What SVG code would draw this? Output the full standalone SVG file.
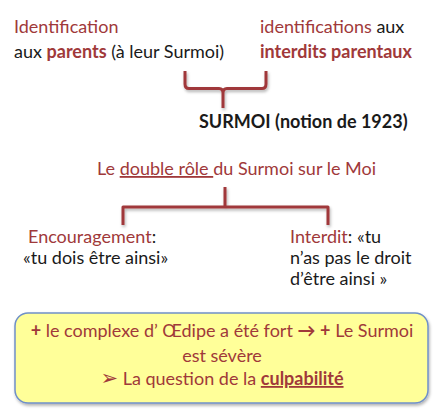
<svg xmlns="http://www.w3.org/2000/svg" width="445" height="412" viewBox="0 0 445 412">
<defs>
<style>
text{font-family:Lato,"Open Sans","Liberation Sans",sans-serif;font-size:18px;fill:#1a1a1a}
.r{fill:#A0393A}
.b{font-weight:bold}
.d{font-family:"DejaVu Sans",sans-serif;font-size:21px}
.c{fill:none;stroke:#A0393A;stroke-width:3;stroke-linejoin:round;stroke-linecap:butt}
</style>
<filter id="sh" x="-10%" y="-10%" width="120%" height="130%">
<feDropShadow dx="1" dy="2" stdDeviation="1.5" flood-color="#000" flood-opacity="0.3"/>
</filter>
</defs>
<rect width="445" height="412" fill="#fff"/>
<g id="n-ident-parents">
<text x="14" y="33" class="r">Identification</text>
<text x="14" y="58">aux <tspan class="r b">parents</tspan> (à leur Surmoi)</text>
</g>
<g id="n-ident-interdits">
<text x="260" y="33"><tspan class="r">identifications</tspan> aux</text>
<text x="260" y="58" class="r b">interdits parentaux</text>
</g>
<g id="n-surmoi">
<text x="199" y="128" class="b">SURMOI (notion de 1923)</text>
</g>
<g id="n-double">
<text x="97" y="175" class="r">Le <tspan text-decoration="underline">double rôle </tspan>du Surmoi sur le Moi</text>
</g>
<g id="n-encour">
<text x="28" y="243"><tspan class="r">Encouragement</tspan>:</text>
<text x="23" y="264">«tu dois être ainsi»</text>
</g>
<g id="n-interdit">
<text x="290" y="243"><tspan class="r">Interdit</tspan>: «tu</text>
<text x="290" y="264">n’as pas le droit</text>
<text x="290" y="285">d’être ainsi »</text>
</g>
<g id="connectors" filter="url(#sh)">
<path class="c" d="M185,71 V84 Q185,88.5 189,88.5 H219 Q223,88.5 223,93 V108 M223,93 Q223,88.5 227,88.5 H262 Q266,88.5 266,84 V71"/>
<path class="c" d="M225,187 V207 M123,225 V207 H328 V225"/>
</g>
<g id="n-box">
<rect x="15" y="313" width="413" height="90" rx="13" fill="#FFFF99" stroke="#7090C8" stroke-width="1.5" filter="url(#sh)"/>
<text x="222" y="337" text-anchor="middle" class="r"><tspan class="b">+</tspan> le complexe d’ Œdipe a été fort <tspan class="b">→</tspan> <tspan class="b">+</tspan> Le Surmoi</text>
<text x="222" y="362" text-anchor="middle" class="r">est sévère</text>
<text x="222" y="385" text-anchor="middle" class="r"><tspan class="d">➢</tspan>   La question de la <tspan class="b" text-decoration="underline">culpabilité</tspan></text>
</g>
</svg>
